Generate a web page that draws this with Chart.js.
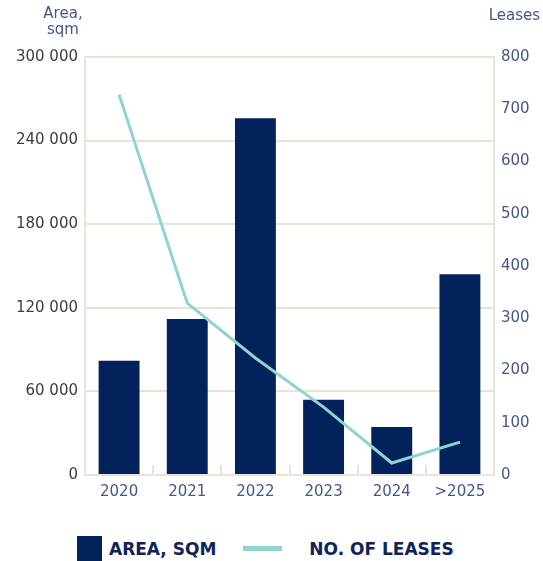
<!DOCTYPE html>
<html>
<head>
<meta charset="utf-8">
<script src="https://cdn.jsdelivr.net/npm/chart.js@4"></script>
<style>
  html, body { margin: 0; padding: 0; background: #fff; }
  #wrap { position: relative; width: 543px; height: 561px; }
  #chart-box { position: absolute; left: 0; top: 0; width: 543px; height: 520px; }
  #legend {
    position: absolute; left: 77px; top: 536px; height: 25px;
    display: flex; align-items: center;
    font-family: "DejaVu Sans", sans-serif; font-weight: bold; font-size: 17px;
    color: #0f2456;
  }
  #legend .box { width: 25px; height: 25px; margin-right: 7px; }
  #legend .stroke { width: 39px; height: 5px; margin-left: 27px; margin-right: 27px; }
</style>
</head>
<body>
<div id="wrap">
  <div id="chart-box"><canvas id="leases-chart"></canvas></div>
  <div id="legend"></div>
</div>
<script>
// categories and series
const years = ['2020', '2021', '2022', '2023', '2024', '>2025'];
const areaSqm = [82000, 112000, 256000, 54000, 34500, 144000];
const leaseCount = [728, 329, 224, 130, 23, 63];

const NAVY = '#03215b';
const TEAL = '#8fd4cf';
const BEIGE = '#e8e5d6';
const SLATE = '#45578a';
const FONT = '"DejaVu Sans", sans-serif';

function spaced(v) {
    return String(v).replace(/\B(?=(\d{3})+(?!\d))/g, ' ');
}

// short marks between categories, pointing up into the plot
const categoryTicks = {
    id: 'categoryTicks',
    beforeDatasetsDraw(chart) {
        const x = chart.scales.x;
        const bottom = chart.chartArea.bottom;
        const ctx = chart.ctx;
        ctx.save();
        ctx.strokeStyle = BEIGE;
        ctx.lineWidth = 2;
        for (let i = 1; i < years.length; i++) {
            const px = Math.round((x.getPixelForValue(i - 1) + x.getPixelForValue(i)) / 2);
            ctx.beginPath();
            ctx.moveTo(px, bottom - 10);
            ctx.lineTo(px, bottom);
            ctx.stroke();
        }
        ctx.restore();
    }
};

// axis captions above each y axis
const axisCaptions = {
    id: 'axisCaptions',
    afterDraw(chart) {
        const ctx = chart.ctx;
        ctx.save();
        ctx.font = '15px ' + FONT;
        ctx.fillStyle = SLATE;
        ctx.textBaseline = 'alphabetic';
        ctx.textAlign = 'center';
        ctx.fillText('Area,', 63, 18);
        ctx.fillText('sqm', 63, 34);
        ctx.textAlign = 'right';
        ctx.fillText('Leases', 540, 20);
        ctx.restore();
    }
};

const ctx = document.getElementById('leases-chart').getContext('2d');
const chart = new Chart(ctx, {
    type: 'bar',
    data: {
        labels: years,
        datasets: [
            {
                type: 'line',
                label: 'NO. OF LEASES',
                data: leaseCount,
                yAxisID: 'y1',
                borderColor: TEAL,
                borderWidth: 3,
                pointRadius: 0,
                tension: 0,
                order: 0
            },
            {
                type: 'bar',
                label: 'AREA, SQM',
                data: areaSqm,
                yAxisID: 'y',
                backgroundColor: NAVY,
                barPercentage: 0.6,
                categoryPercentage: 1,
                order: 1
            }
        ]
    },
    options: {
        responsive: true,
        maintainAspectRatio: false,
        animation: false,
        layout: { padding: { top: 57, bottom: 15, left: 0, right: 0 } },
        plugins: { legend: { display: false }, tooltip: { enabled: false } },
        scales: {
            x: {
                offset: true,
                grid: { display: false, drawTicks: false },
                border: { display: true, color: BEIGE, width: 2 },
                ticks: { color: SLATE, font: { family: FONT, size: 15 }, padding: 8 },
                afterFit: s => { s.height = 30; }
            },
            y: {
                position: 'left',
                min: 0, max: 300000,
                grid: { color: BEIGE, lineWidth: 2, drawTicks: false },
                border: { display: true, color: BEIGE, width: 2 },
                ticks: {
                    stepSize: 60000, color: '#3c3c3c', padding: 7,
                    font: { family: FONT, size: 15 },
                    callback: v => spaced(v)
                },
                afterFit: s => { s.width = 85; }
            },
            y1: {
                position: 'right',
                min: 0, max: 800,
                grid: { display: false, drawTicks: false },
                border: { display: true, color: BEIGE, width: 2 },
                ticks: { stepSize: 100, color: SLATE, padding: 7, font: { family: FONT, size: 15 } },
                afterFit: s => { s.width = 49; }
            }
        }
    },
    plugins: [categoryTicks, axisCaptions]
});

// html legend built from the datasets
const bar = chart.data.datasets[1];
const line = chart.data.datasets[0];
document.getElementById('legend').innerHTML =
    `<span class="box" style="background:${bar.backgroundColor}"></span><span>${bar.label}</span>` +
    `<span class="stroke" style="background:${line.borderColor}"></span><span>${line.label}</span>`;
</script>
</body>
</html>
